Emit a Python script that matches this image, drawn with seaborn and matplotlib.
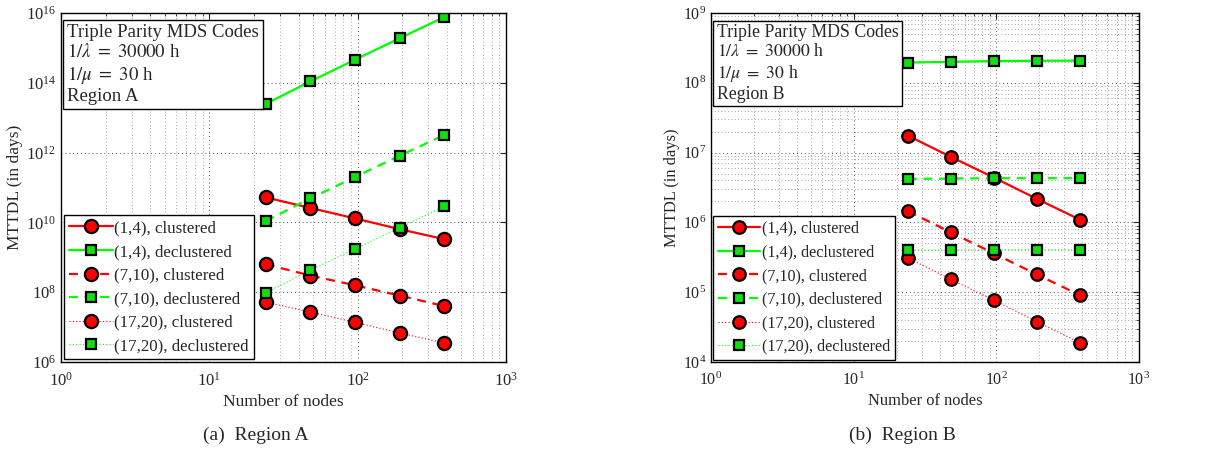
import numpy as np
import pandas as pd
import matplotlib
matplotlib.use("Agg")
import matplotlib.pyplot as plt
import matplotlib.ticker as mticker
import seaborn as sns

# --- Data ---
nodes = [24, 48, 96, 192, 384]
series_labels = ['(1,4), clustered', '(1,4), declustered',
                 '(7,10), clustered', '(7,10), declustered',
                 '(17,20), clustered', '(17,20), declustered']

# Region A
a_14_clu = [5.2e10, 2.6e10, 1.3e10, 6.4e9, 3.3e9]
a_14_dec = [2.5e13, 1.1e14, 4.6e14, 1.9e15, 7.7e15]
a_710_clu = [6.3e8, 3.0e8, 1.58e8, 8.0e7, 4.0e7]
a_710_dec = [1.1e10, 4.9e10, 2.0e11, 8.2e11, 3.2e12]
a_1720_clu = [5.2e7, 2.7e7, 1.37e7, 6.8e6, 3.5e6]
a_1720_dec = [9.7e7, 4.3e8, 1.75e9, 7.1e9, 2.9e10]

# Region B
b_14_clu = [1.75e7, 8.7e6, 4.4e6, 2.18e6, 1.1e6]
b_14_dec = [1.95e8, 2.0e8, 2.05e8, 2.07e8, 2.08e8]
b_710_clu = [1.45e6, 7.2e5, 3.6e5, 1.8e5, 9.1e4]
b_710_dec = [4.2e6, 4.25e6, 4.3e6, 4.3e6, 4.3e6]
b_1720_clu = [3.1e5, 1.53e5, 7.7e4, 3.8e4, 1.9e4]
b_1720_dec = [4.0e5, 4.02e5, 4.05e5, 4.05e5, 4.05e5]

region_a = [a_14_clu, a_14_dec, a_710_clu, a_710_dec, a_1720_clu, a_1720_dec]
region_b = [b_14_clu, b_14_dec, b_710_clu, b_710_dec, b_1720_clu, b_1720_dec]

# --- Style ---
sns.set_style("white")
plt.rcParams['font.family'] = ['Liberation Serif', 'DejaVu Serif']
plt.rcParams['mathtext.fontset'] = 'stix'
plt.rcParams['font.size'] = 12

red = '#ff0000'
green_line = '#00ff00'
green_face = '#10e010'
styles = [
    dict(color=red, linestyle='-', lw=1.6, marker='o', ms=9.5, mfc=red),
    dict(color=green_line, linestyle='-', lw=1.6, marker='s', ms=7.5, mfc=green_face),
    dict(color=red, linestyle=(0, (4, 3)), lw=1.6, marker='o', ms=9.5, mfc=red),
    dict(color=green_line, linestyle=(0, (4, 3)), lw=1.6, marker='s', ms=7.5, mfc=green_face),
    dict(color=red, linestyle=(0, (1, 2)), lw=0.8, marker='o', ms=9.5, mfc=red),
    dict(color=green_line, linestyle=(0, (1, 2)), lw=0.8, marker='s', ms=7.5, mfc=green_face),
]


def draw_panel(ax, values, ylim, yticks, y_minor, region, scale):
    for label, vals, st in zip(series_labels, values, styles):
        df = pd.DataFrame({'nodes': nodes, 'mttdl': vals})
        sns.lineplot(data=df, x='nodes', y='mttdl', ax=ax, label=label,
                     color=st['color'], linestyle=st['linestyle'], lw=st['lw'],
                     marker=st['marker'], ms=st['ms'] * scale, mfc=st['mfc'],
                     mec='black', mew=1.6)
    ax.set_xscale('log')
    ax.set_yscale('log')
    ax.set_xlim(1, 1000)
    ax.set_ylim(*ylim)
    ax.set_xticks([1, 10, 100, 1000])
    ax.set_yticks(yticks)
    ax.xaxis.set_minor_locator(mticker.LogLocator(base=10, subs=np.arange(2, 10)))
    ax.xaxis.set_minor_formatter(mticker.NullFormatter())
    if y_minor:
        ax.yaxis.set_minor_locator(mticker.LogLocator(base=10, subs=np.arange(2, 10)))
    else:
        ax.yaxis.set_minor_locator(mticker.NullLocator())
    ax.yaxis.set_minor_formatter(mticker.NullFormatter())
    ax.grid(True, which='major', linestyle=(0, (1, 3)), color='#555555', lw=0.7)
    ax.grid(True, which='minor', linestyle=(0, (1, 3)), color='#888888', lw=0.6)
    ax.tick_params(which='both', direction='in', top=True, right=True,
                   labelsize=12 * scale)
    ax.tick_params(axis='x', which='major', pad=7)
    ax.tick_params(which='major', length=4.5)
    ax.tick_params(which='minor', length=2)
    for sp in ax.spines.values():
        sp.set_color('black')
        sp.set_linewidth(1.0)
    ax.set_xlabel('Number of nodes', fontsize=12.5 * scale, labelpad=3)
    ax.set_ylabel('MTTDL (in days)', fontsize=12.5 * scale, labelpad=2)

    leg = ax.legend(loc='lower left', fontsize=12.2 * scale, handlelength=2.6,
                    handletextpad=0.1, borderaxespad=0.15,
                    labelspacing=0.45 / scale,
                    fancybox=False, framealpha=1, edgecolor='black',
                    borderpad=0.3)
    leg.get_frame().set_linewidth(1.0)

    ax.text(0.014, 0.968,
            'Triple Parity MDS Codes\n$1/\\lambda\\ =\\ 30000$ h\n$1/\\mu\\ =\\ 30$ h\n' + region,
            transform=ax.transAxes, ha='left', va='top', fontsize=13.5 * scale,
            linespacing=1.16,
            bbox=dict(boxstyle='square,pad=0.2', fc='white', ec='black', lw=1.0))


fig = plt.figure(figsize=(12.3, 4.54), dpi=100)
ax_a = fig.add_axes([0.0496, 0.2026, 0.3618, 0.7687])
ax_b = fig.add_axes([0.578, 0.2026, 0.348, 0.7687])

draw_panel(ax_a, region_a, (1e6, 1e16), [1e6, 1e8, 1e10, 1e12, 1e14, 1e16],
           False, 'Region A', 1.0)
draw_panel(ax_b, region_b, (1e4, 1e9), [1e4, 1e5, 1e6, 1e7, 1e8, 1e9],
           True, 'Region B', 0.95)

fig.text(0.208, 0.042, '(a)  Region A', ha='center', va='center', fontsize=14)
fig.text(0.7337, 0.042, '(b)  Region B', ha='center', va='center', fontsize=14)

fig.savefig('out.png', dpi=100)
